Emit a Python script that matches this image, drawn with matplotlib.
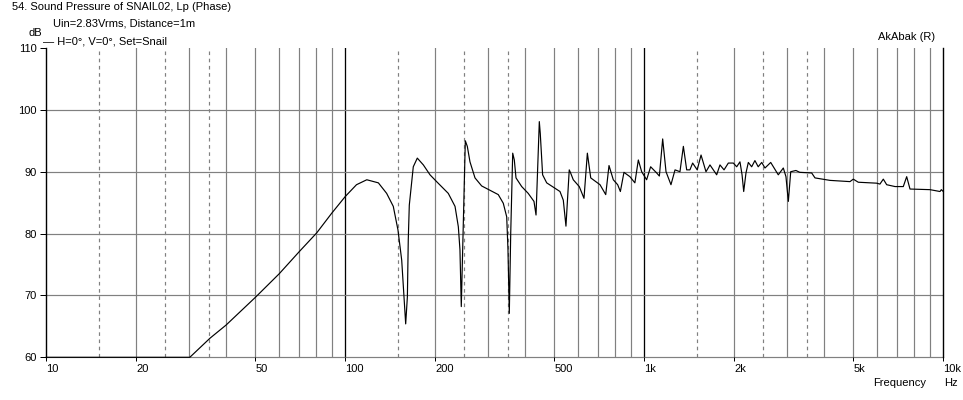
import numpy as np
import matplotlib
matplotlib.use("Agg")
import matplotlib.pyplot as plt

# ---- data ----
freq_hz = [10, 30.2, 35.3, 39.9, 50.3, 60.1, 70.2, 80.2, 90.1, 100, 109, 118, 129, 137.5,
           144.7, 150, 154.4, 157.1, 159.2, 161.3, 162.4, 163.7, 168.8, 174.1, 182.4, 192,
           202, 221, 232.8, 238.8, 241.8, 244.3, 247, 252, 255.9, 261.2, 271.5, 285.8,
           304.8, 324.8, 337.6, 346.6, 350, 353.6, 357.5, 363, 367.5, 372.3, 389, 409,
           427.6, 434.4, 438.5, 445.5, 448.8, 457, 471.6, 496.3, 522.4, 535.9, 547, 561,
           567, 578.7, 606, 628.5, 645, 654.6, 662, 711, 743, 762, 787.6, 814.6, 831.7,
           855, 895, 930, 955, 980, 1018, 1050, 1100, 1123, 1152, 1182, 1228, 1267, 1316,
           1351, 1386, 1421, 1451, 1503, 1548, 1608, 1658, 1746, 1791, 1848, 1910, 1985,
           2037, 2089, 2123, 2150, 2188, 2228, 2286, 2344, 2404, 2470, 2533, 2647, 2701,
           2806, 2917, 2977, 3032, 3088, 3214, 3311, 3629, 3723, 4178, 4874, 5000, 5196,
           5984, 6138, 6300, 6467, 6896, 7348, 7543, 7738, 9028, 9750, 9850, 10000]
spl_db = [60, 60, 63.1, 65.2, 69.8, 73.5, 77.1, 80.1, 83.3, 86.0, 87.9, 88.7, 88.2, 86.5,
          84.4, 80.6, 75.7, 69.8, 65.4, 69.8, 79.0, 84.6, 90.8, 92.2, 91.1, 89.5,
          88.4, 86.5, 84.4, 81.1, 77.4, 68.2, 77.9, 95.0, 94.1, 91.6, 89.0, 87.7,
          87.0, 86.3, 84.9, 82.7, 77.4, 67.1, 80.1, 93.0, 91.9, 89.0, 87.6, 86.5,
          85.2, 83.0, 88.7, 98.1, 96.2, 89.5, 88.2, 87.5, 86.8, 85.4, 81.2, 90.3,
          89.8, 88.7, 87.6, 85.7, 93.0, 90.8, 89.0, 87.9, 86.3, 91.0, 88.7, 87.9, 86.8,
          89.9, 89.2, 88.2, 91.9, 90.0, 88.7, 90.8, 89.8, 89.3, 95.3, 90.0, 87.9, 90.3, 90.0,
          94.1, 90.3, 90.3, 91.4, 90.3, 92.7, 90.0, 91.1, 89.5, 91.1, 90.3, 91.4, 91.4,
          90.8, 91.6, 89.5, 86.8, 89.8, 91.5, 90.8, 91.8, 90.8, 91.5, 90.6, 91.5, 90.8,
          89.5, 90.6, 89.2, 85.2, 90.0, 90.2, 89.9, 89.8, 89.0, 88.6, 88.4, 88.8, 88.3,
          88.15, 88.0, 88.8, 87.9, 87.6, 87.6, 89.2, 87.2, 87.1, 86.8, 87.1, 86.8]

x_tick_values = [10, 20, 50, 100, 200, 500, 1000, 2000, 5000, 10000]
x_tick_labels = ["10", "20", "50", "100", "200", "500", "1k", "2k", "5k", "10k"]
y_tick_values = [60, 70, 80, 90, 100, 110]

FONT = "Liberation Sans"
FS = 8

fig = plt.figure(figsize=(9.63, 4.0), dpi=100)
fig.patch.set_facecolor("white")
W, H = 963, 400
x0, x1 = 46.3, 943.3
y_top, y_bot = 48, 357.3
ax = fig.add_axes([x0 / W, (H - y_bot) / H, (x1 - x0) / W, (y_bot - y_top) / H])
ax.set_xscale("log")
ax.set_xlim(10, 10000)
ax.set_ylim(60, 110)
ax.set_facecolor("white")

px = 0.72  # one pixel in points
grid_gray = "#808080"
for dec in [10, 100, 1000]:
    for m in range(2, 10):
        ax.axvline(dec * m, color=grid_gray, lw=px * 1.2, zorder=1)
    for m in [1.5, 2.5, 3.5]:
        ax.axvline(dec * m, color=grid_gray, lw=px * 1.2, ls=(0, (3, 3)), zorder=1)
for dec in [100, 1000]:
    ax.axvline(dec, color="black", lw=px * 1.3, zorder=1)
for yv in [70, 80, 90, 100]:
    ax.axhline(yv, color=grid_gray, lw=px * 1.2, zorder=1)

for s in ax.spines.values():
    s.set_visible(False)
ax.axvline(10, color="black", lw=px * 1.4, zorder=3, clip_on=False)
ax.axvline(10000, color="black", lw=px * 1.4, zorder=3, clip_on=False)
ax.axhline(60, color=grid_gray, lw=px * 1.2, zorder=1, clip_on=False)

ax.plot(freq_hz, spl_db, color="black", lw=0.85, zorder=4, clip_on=False)

ax.set_xticks(x_tick_values)
ax.set_xticklabels(x_tick_labels, fontsize=FS, family=FONT, ha="left")
ax.xaxis.set_minor_locator(matplotlib.ticker.NullLocator())
ax.tick_params(axis="x", length=3, width=px, color="black", pad=2)
ax.set_yticks(y_tick_values)
ax.set_yticklabels([str(v) for v in y_tick_values], fontsize=FS, family=FONT)
ax.tick_params(axis="y", length=4, width=px, color="black", pad=3)

def ftext(xp, yp, s, ha="left"):
    fig.text(xp / W, 1 - yp / H, s, fontsize=FS, family=FONT, ha=ha, va="center")

ftext(12, 7.5, "54. Sound Pressure of SNAIL02, Lp (Phase)")
ftext(53, 24, "Uin=2.83Vrms, Distance=1m")
ftext(28, 33, "dB")
ftext(43, 41, "— H=0°, V=0°, Set=Snail")
ftext(935, 37, "AkAbak (R)", ha="right")
ftext(873, 383, "Frequency")
ftext(944, 383, "Hz")

fig.savefig("out.png", dpi=100, facecolor="white")
